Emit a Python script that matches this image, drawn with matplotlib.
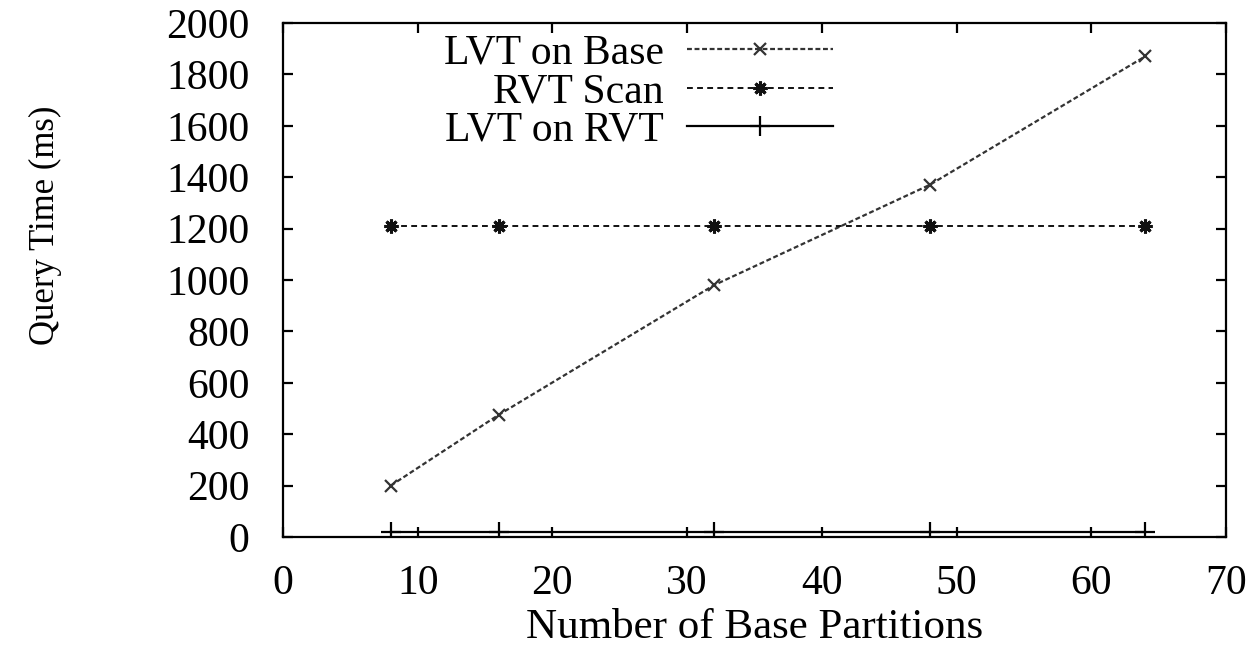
import matplotlib
matplotlib.use("Agg")
import matplotlib.pyplot as plt

# partitions on the x axis and query times (ms)
partitions = [8, 16, 32, 48, 64]
lvt_on_base = [200, 475, 980, 1370, 1870]
rvt_scan = [1210, 1210, 1210, 1210, 1210]
lvt_on_rvt = [20, 20, 20, 20, 20]

x_ticks = [0, 10, 20, 30, 40, 50, 60, 70]
y_ticks = [0, 200, 400, 600, 800, 1000, 1200, 1400, 1600, 1800, 2000]

plt.rcParams['font.family'] = ['Liberation Serif', 'DejaVu Serif']

fig = plt.figure(figsize=(12.51, 6.47), dpi=100)
ax = fig.add_axes([283 / 1251, 1 - 537 / 647, 943 / 1251, 514 / 647])

ax.plot(partitions, lvt_on_base, color='#333333', linestyle=(0, (2.2, 1.2)), linewidth=1.6,
        marker='x', markersize=9, markeredgewidth=1.6, label='LVT on Base')
ax.plot(partitions, rvt_scan, color='#111111', linestyle=(0, (3, 2.2)), linewidth=1.4,
        marker=(8, 2, 0), markersize=10, markeredgewidth=2.2, label='RVT Scan')
ax.plot(partitions, lvt_on_rvt, color='black', linestyle='-', linewidth=1.6,
        marker='+', markersize=14, markeredgewidth=1.6, label='LVT on RVT')

ax.set_xlim(0, 70)
ax.set_ylim(0, 2000)
ax.set_xticks(x_ticks)
ax.set_yticks(y_ticks)

for s in ax.spines.values():
    s.set_linewidth(1.6)
ax.tick_params(axis='both', direction='in', length=7, width=1.6, top=True, right=True)
ax.tick_params(axis='y', labelsize=30, pad=24)
ax.tick_params(axis='x', labelsize=30, pad=20)

ax.set_xlabel('Number of Base Partitions', fontsize=31)
ax.xaxis.set_label_coords(0.5, -0.14)
ax.set_ylabel('Query Time (ms)', fontsize=25)
ax.yaxis.set_label_coords(-0.234, 0.607)

ax.legend(loc='upper right', bbox_to_anchor=(0.583, 0.978), frameon=False,
          markerfirst=False, fontsize=30, handlelength=3.5, handletextpad=0.55,
          labelspacing=0.0, borderpad=0, borderaxespad=0)

fig.savefig('out.png', dpi=100)
